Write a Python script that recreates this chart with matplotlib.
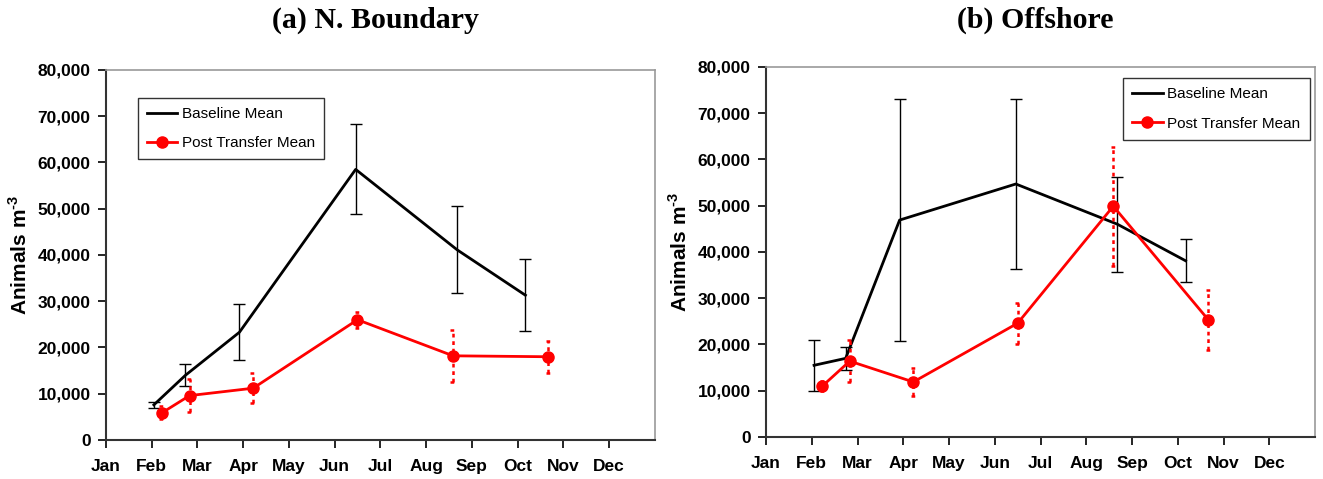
import matplotlib
matplotlib.use("Agg")
import matplotlib.pyplot as plt
from matplotlib.ticker import FuncFormatter
from matplotlib.lines import Line2D
import numpy as np

plt.rcParams['font.family'] = ['Liberation Sans', 'DejaVu Sans']
plt.rcParams['mathtext.fontset'] = 'custom'
plt.rcParams['mathtext.rm'] = 'Liberation Sans:bold'
plt.rcParams['mathtext.bf'] = 'Liberation Sans:bold'

months = ["Jan", "Feb", "Mar", "Apr", "May", "Jun", "Jul", "Aug", "Sep", "Oct", "Nov", "Dec"]

# sampling dates in month units (Jan = 0)
base_x = [1.05, 1.74, 2.92, 5.46, 7.68, 9.17]
post_x = [1.23, 1.83, 3.22, 5.50, 7.59, 9.67]

# (a) N. Boundary
nb_base = [7600, 14000, 23300, 58500, 41100, 31300]
nb_base_err = [650, 2400, 6100, 9750, 9400, 7800]
nb_post = [5900, 9600, 11200, 26000, 18200, 18000]
nb_post_err = [1400, 3500, 3200, 1700, 5600, 3500]

# (b) Offshore
off_base = [15500, 17000, 46900, 54700, 46000, 38100]
off_base_err = [5500, 2500, 26200, 18300, 10300, 4650]
off_post = [11000, 16400, 11900, 24600, 49900, 25300]
off_post_err = [1150, 4500, 3000, 4400, 12900, 6500]

panels = [
    ("(a) N. Boundary", nb_base, nb_base_err, nb_post, nb_post_err,
     [0.080, 0.0814, 0.415, 0.7726], 'upper left', (0.058, 0.925)),
    ("(b) Offshore", off_base, off_base_err, off_post, off_post_err,
     [0.579, 0.0877, 0.415, 0.7725], 'upper right', (0.99, 0.97)),
]

fig = plt.figure(figsize=(13.23, 4.79), dpi=100)

for title, b, be, p, pe, rect, leg_loc, leg_pos in panels:
    ax = fig.add_axes(rect)

    # baseline: black line with solid capped error bars
    ax.errorbar(base_x, b, yerr=be, color='black', lw=2, elinewidth=1,
                capsize=4, capthick=1, zorder=3)

    # post transfer: red line, dotted error bars
    line, caps, bars = ax.errorbar(post_x, p, yerr=pe, color='red', lw=2,
                                   marker='o', markersize=8, elinewidth=1.8,
                                   capsize=0, zorder=4)
    for bl in bars:
        bl.set_linestyle((0, (1.5, 1.5)))
    px = np.array(post_x)
    pv = np.array(p)
    pev = np.array(pe)
    for yy in (pv - pev, pv + pev):
        ax.hlines(yy, px - 0.06, px + 0.06, colors='red', lw=1.8,
                  linestyles=(0, (1.5, 1.5)), zorder=4)

    ax.set_xlim(0, 12)
    ax.set_ylim(0, 80000)
    ax.set_xticks(range(12))
    ax.set_xticklabels(months, fontweight='bold', fontsize=12.5)
    ax.set_yticks(range(0, 80001, 10000))
    ax.yaxis.set_major_formatter(FuncFormatter(lambda v, pos: f"{int(v):,}"))
    for lbl in ax.get_yticklabels():
        lbl.set_fontweight('bold')
        lbl.set_fontsize(12.5)
    ax.tick_params(axis='both', direction='out', length=6, width=1.2)
    ax.tick_params(axis='x', pad=8)
    ax.tick_params(axis='y', pad=5)
    ax.set_ylabel(r"Animals m$^{\text{-3}}$", fontweight='bold', fontsize=15, labelpad=5)

    for side in ('left', 'bottom'):
        ax.spines[side].set_color('#333333')
        ax.spines[side].set_linewidth(1.5)
    for side in ('top', 'right'):
        ax.spines[side].set_color('#999999')
        ax.spines[side].set_linewidth(1.2)

    handles = [Line2D([], [], color='black', lw=2),
               Line2D([], [], color='red', lw=2, marker='o', markersize=8)]
    leg = ax.legend(handles, ["Baseline Mean", "Post Transfer Mean"],
                    loc=leg_loc, bbox_to_anchor=leg_pos, fontsize=11,
                    frameon=True, fancybox=False, edgecolor='black',
                    handlelength=2.0, handletextpad=0.3, labelspacing=1.0,
                    borderpad=0.6, borderaxespad=0)
    leg.get_frame().set_linewidth(1.0)

    fig.text(rect[0] + rect[2] / 2 - 0.004, 0.958, title, ha='center', va='center',
             fontsize=21.5, fontweight='bold', family=['Liberation Serif', 'DejaVu Serif'])

fig.savefig("out.png", dpi=100)
